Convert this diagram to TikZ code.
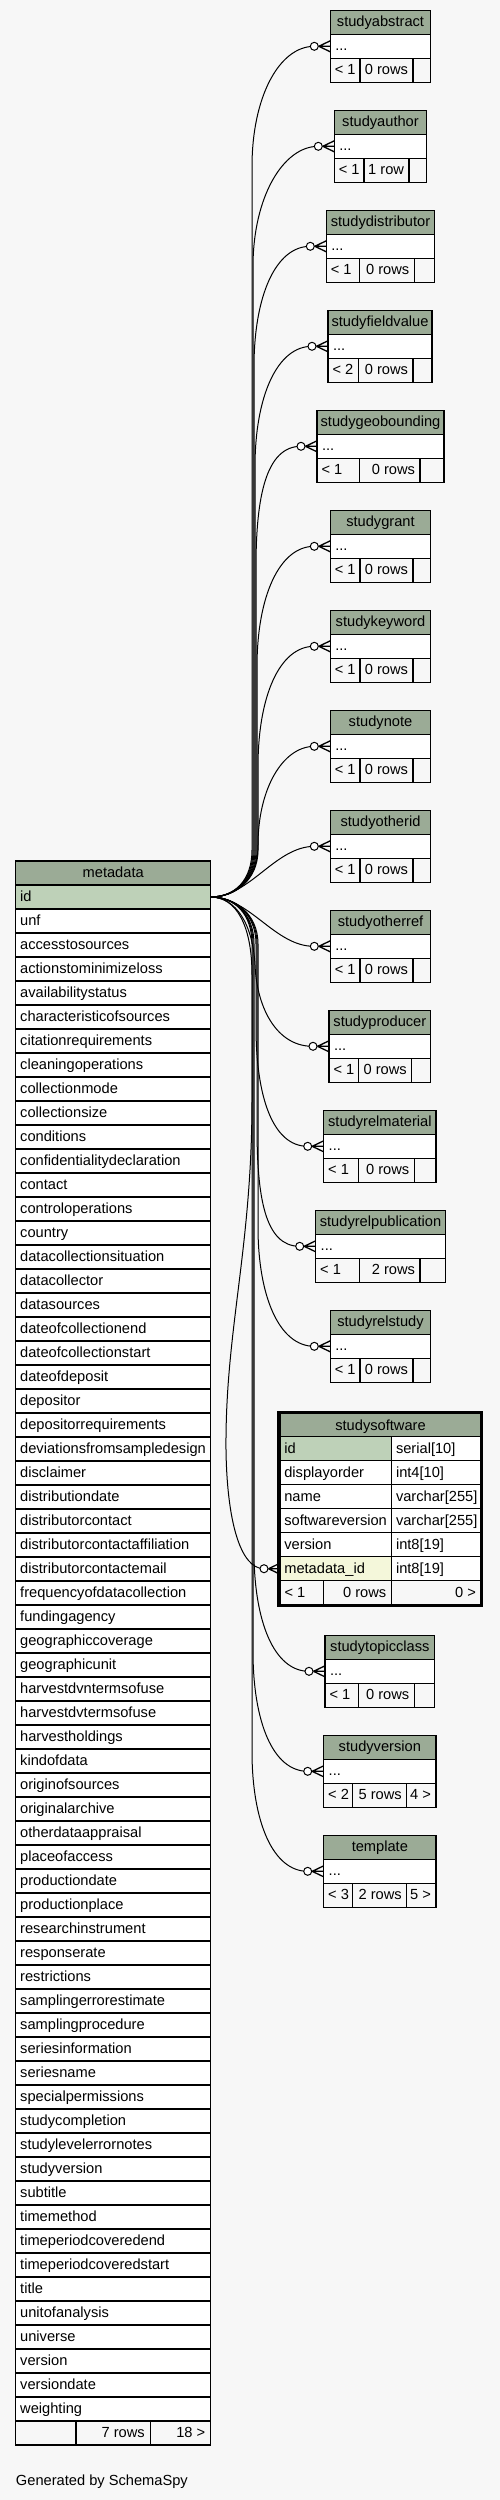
\documentclass[tikz,border=0pt]{standalone}
\usepackage{fontspec}
\setmainfont{Liberation Sans}
\usetikzlibrary{calc}
\definecolor{bgc}{HTML}{F7F7F7}
\definecolor{hdrc}{HTML}{9BAB96}
\definecolor{pkc}{HTML}{BED1B8}
\definecolor{fkc}{HTML}{F4F7DA}
\tikzset{
  tcell/.style={draw=black, line width=1.1pt, inner sep=0pt, outer sep=0pt, minimum height=24pt, anchor=north west},
  txt/.style={inner sep=0pt, outer sep=0pt, text=black, font=\fontsize{14.65pt}{17pt}\selectfont},
  conn/.style={draw=black, line width=1pt},
  crow/.style={draw=black, line width=1.3pt},
}
\newcommand\tbl[9]{%
  \pgfmathsetmacro\TWall{#5-#4}%
  \pgfmathsetmacro\TWa{#6-#4}%
  \pgfmathsetmacro\TWb{#7-#6}%
  \pgfmathsetmacro\TWc{#5-#7}%
  \node[tcell, fill=hdrc, minimum width=\TWall pt] (#1-h) at (#4,#3) {};
  \node[txt, anchor=base] at ([yshift=-16.5pt]#1-h.north) {#2};
  \node[tcell, fill=white, minimum width=\TWall pt] (#1-r) at (#4,#3+24) {};
  \node[txt, anchor=base west] at ([xshift=5pt,yshift=-16pt]#1-r.north west) {...};
  \node[tcell, fill=bgc, minimum width=\TWa pt] (#1-f1) at (#4,#3+48) {};
  \node[tcell, fill=bgc, minimum width=\TWb pt] (#1-f2) at (#6,#3+48) {};
  \node[tcell, fill=bgc, minimum width=\TWc pt] (#1-f3) at (#7,#3+48) {};
  \node[txt, anchor=base west] at ([xshift=4.5pt,yshift=-16.5pt]#1-f1.north west) {#8};
  \node[txt, anchor=base east] at ([xshift=-5pt,yshift=-16.5pt]#1-f2.north east) {#9};
  \coordinate (#1-c) at ([xshift=-16pt]#1-r.west);
}
\newcommand\fkmark[1]{%
  \draw[crow] ([xshift=4.5pt]#1-c) -- ([xshift=16pt,yshift=5.5pt]#1-c)
    ([xshift=4.5pt]#1-c) -- ([xshift=16pt]#1-c)
    ([xshift=4.5pt]#1-c) -- ([xshift=16pt,yshift=-5.5pt]#1-c);
  \draw[conn, fill=white] (#1-c) circle (4pt);
}
\newcommand\upedge[3]{%
  \draw[conn] (m-id.east) .. controls (235,897) and (#2,880) .. (#2,850) -- (#2,#3+120)
    .. controls (#2,#3+50) and ([xshift=-35pt]#1-c) .. (#1-c);
}
\newcommand\downedge[3]{%
  \draw[conn] (m-id.east) .. controls (235,897) and (#2,914) .. (#2,944) -- (#2,#3-120)
    .. controls (#2,#3-50) and ([xshift=-35pt]#1-c) .. (#1-c);
}
\begin{document}
\begin{tikzpicture}[x=1pt,y=-1pt]
\useasboundingbox (0,0) rectangle (500,2500);
\fill[bgc] (0,0) rectangle (500,2500);

% ---------- metadata table ----------
\node[tcell, fill=hdrc, minimum width=195pt] (m-h) at (15.7,861) {};
\node[txt, anchor=base] at ([yshift=-16.5pt]m-h.north) {metadata};
\node[tcell, fill=pkc, minimum width=195pt] (m-id) at (15.7,885) {};
\node[txt, anchor=base west] at ([xshift=4.5pt,yshift=-16.5pt]m-id.north west) {id};
\foreach \nm [count=\i] in {unf,accesstosources,actionstominimizeloss,availabilitystatus,characteristicofsources,citationrequirements,cleaningoperations,collectionmode,collectionsize,conditions,confidentialitydeclaration,contact,controloperations,country,datacollectionsituation,datacollector,datasources,dateofcollectionend,dateofcollectionstart,dateofdeposit,depositor,depositorrequirements,deviationsfromsampledesign,disclaimer,distributiondate,distributorcontact,distributorcontactaffiliation,distributorcontactemail,frequencyofdatacollection,fundingagency,geographiccoverage,geographicunit,harvestdvntermsofuse,harvestdvtermsofuse,harvestholdings,kindofdata,originofsources,originalarchive,otherdataappraisal,placeofaccess,productiondate,productionplace,researchinstrument,responserate,restrictions,samplingerrorestimate,samplingprocedure,seriesinformation,seriesname,specialpermissions,studycompletion,studylevelerrornotes,studyversion,subtitle,timemethod,timeperiodcoveredend,timeperiodcoveredstart,title,unitofanalysis,universe,version,versiondate,weighting}{
  \node[tcell, fill=white, minimum width=195pt] (m-\i) at (15.7,885+24*\i) {};
  \node[txt, anchor=base west] at ([xshift=4.5pt,yshift=-16.5pt]m-\i.north west) {\nm};
}
\node[tcell, fill=bgc, minimum width=60.3pt] (m-f1) at (15.7,2421) {};
\node[tcell, fill=bgc, minimum width=74.7pt] (m-f2) at (76,2421) {};
\node[tcell, fill=bgc, minimum width=60pt] (m-f3) at (150.7,2421) {};
\node[txt, anchor=base east] at ([xshift=-6pt,yshift=-16.5pt]m-f2.north east) {7 rows};
\node[txt, anchor=base east] at ([xshift=-5.5pt,yshift=-16.5pt]m-f3.north east) {18 >};

% ---------- small tables ----------
\tbl{abs}{studyabstract}{10.3}{330.3}{430.7}{360}{413}{< 1}{0 rows}
\tbl{aut}{studyauthor}{110.3}{334.3}{426.7}{364}{409}{< 1}{1 row}
\tbl{dis}{studydistributor}{210.3}{326.3}{434.7}{359.7}{414.3}{< 1}{0 rows}
\tbl{fld}{studyfieldvalue}{310.3}{328}{432}{358.7}{413}{< 2}{0 rows}
\tbl{geo}{studygeobounding}{410.3}{317}{444}{359.7}{420}{< 1}{0 rows}
\tbl{gra}{studygrant}{510.3}{330.3}{430.7}{360}{413}{< 1}{0 rows}
\tbl{key}{studykeyword}{610.3}{330.3}{430.7}{360}{413}{< 1}{0 rows}
\tbl{not}{studynote}{710.3}{330.3}{430.7}{360}{413}{< 1}{0 rows}
\tbl{oid}{studyotherid}{810.3}{330.3}{430.7}{360}{413}{< 1}{0 rows}
\tbl{ore}{studyotherref}{910.3}{330.3}{430.7}{360}{413}{< 1}{0 rows}
\tbl{pro}{studyproducer}{1010.3}{329}{430.7}{358.7}{411.7}{< 1}{0 rows}
\tbl{rma}{studyrelmaterial}{1110.3}{323.7}{436}{358.7}{414.3}{< 1}{0 rows}
\tbl{rpu}{studyrelpublication}{1210.3}{315.7}{445.3}{359.7}{420}{< 1}{2 rows}
\tbl{rst}{studyrelstudy}{1310.3}{330.3}{430.7}{360}{413}{< 1}{0 rows}
\tbl{tpc}{studytopicclass}{1635.3}{325}{434.7}{358.7}{414.3}{< 1}{0 rows}
\tbl{ver}{studyversion}{1735.3}{323.7}{436}{352.7}{406.7}{< 2}{5 rows}
\node[txt, anchor=base east] at ([xshift=-5pt,yshift=-16.5pt]ver-f3.north east) {4 >};
\tbl{tpl}{template}{1835.3}{323.7}{436}{352.7}{406.7}{< 3}{2 rows}
\node[txt, anchor=base east] at ([xshift=-5pt,yshift=-16.5pt]tpl-f3.north east) {5 >};

% ---------- studysoftware ----------
\node[tcell, fill=hdrc, minimum width=201pt, minimum height=23pt] (ss-h) at (280,1413.7) {};
\node[txt, anchor=base] at ([yshift=-16.3pt]ss-h.north) {studysoftware};
\foreach \cn/\ct/\cf [count=\k from 0] in {id/serial[10]/pkc, displayorder/int4[10]/white, name/varchar[255]/white, softwareversion/varchar[255]/white, version/int8[19]/white, metadata\_id/int8[19]/fkc}{
  \node[tcell, fill=\cf, minimum width=111.7pt] (ss-n\k) at (280,1436.7+24*\k) {};
  \node[tcell, fill=white, minimum width=89.3pt] (ss-t\k) at (391.7,1436.7+24*\k) {};
  \node[txt, anchor=base west] at ([xshift=4.3pt,yshift=-16.5pt]ss-n\k.north west) {\cn};
  \node[txt, anchor=base west] at ([xshift=4.3pt,yshift=-16.5pt]ss-t\k.north west) {\ct};
}
\node[tcell, fill=bgc, minimum width=43.3pt] (ss-f1) at (280,1580.7) {};
\node[tcell, fill=bgc, minimum width=68.4pt] (ss-f2) at (323.3,1580.7) {};
\node[tcell, fill=bgc, minimum width=89.3pt] (ss-f3) at (391.7,1580.7) {};
\node[txt, anchor=base west] at ([xshift=4.5pt,yshift=-16.5pt]ss-f1.north west) {< 1};
\node[txt, anchor=base east] at ([xshift=-5.5pt,yshift=-16.5pt]ss-f2.north east) {0 rows};
\node[txt, anchor=base east] at ([xshift=-5pt,yshift=-16.5pt]ss-f3.north east) {0 >};
\draw[line width=3pt] (278.5,1412.5) rectangle (481.5,1605.8);
\coordinate (ss-c) at ([xshift=-16pt]ss-n5.west);

% ---------- connectors ----------
\upedge{abs}{252}{46.7}
\upedge{aut}{253}{146.7}
\upedge{dis}{254}{246.7}
\upedge{fld}{255}{346.7}
\upedge{geo}{256}{446.7}
\upedge{gra}{257}{546.7}
\upedge{key}{258}{646.7}
\draw[conn] (m-id.east) .. controls (236,897) and (258,880) .. (258,845) .. controls (258,790) and (282,746.7) .. (not-c);
\draw[conn] (m-id.east) .. controls (250,897) and (275,846.7) .. (oid-c);
\draw[conn] (m-id.east) .. controls (250,897) and (275,946.7) .. (ore-c);
\draw[conn] (m-id.east) .. controls (236,897) and (253,925) .. (255,965) .. controls (257,1010) and (278,1046.7) .. (pro-c);
\downedge{rma}{256}{1146.7}
\downedge{rpu}{257}{1246.7}
\downedge{rst}{258}{1346.7}
\draw[conn] (m-id.east) .. controls (236,897) and (252,925) .. (252,975) -- (252,1100)
   .. controls (252,1250) and (225,1330) .. (226,1450) .. controls (227,1520) and (240,1568.7) .. (ss-c);
\downedge{tpc}{254}{1671.3}
\downedge{ver}{253}{1771.3}
\downedge{tpl}{252}{1871.3}

\foreach \t in {abs,aut,dis,fld,geo,gra,key,not,oid,ore,pro,rma,rpu,rst,ss,tpc,ver,tpl}{\fkmark{\t}}

\node[txt, anchor=base west] (gen) at (16,2485.5) {Generated by SchemaSpy};
\end{tikzpicture}
\end{document}
